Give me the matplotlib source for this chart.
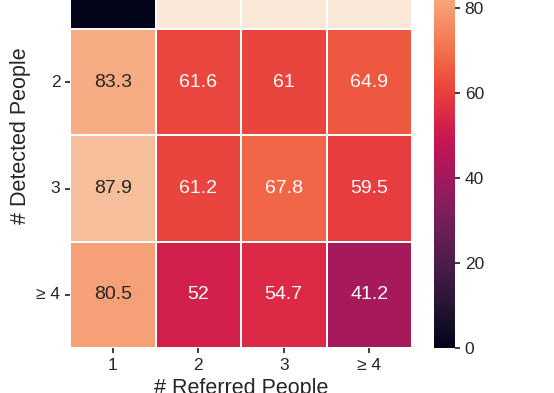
import matplotlib
matplotlib.use("Agg")
import matplotlib.pyplot as plt
import seaborn as sns
import numpy as np

sns.set_theme(style="ticks")
plt.rcParams['font.family'] = ['Liberation Sans', 'DejaVu Sans']

row_labels = ["1", "2", "3", "≥ 4"]
col_labels = ["1", "2", "3", "≥ 4"]
row1 = [0.0, 99.0, 99.0, 99.0]
row2 = [83.3, 61.6, 61.0, 64.9]
row3 = [87.9, 61.2, 67.8, 59.5]
row4 = [80.5, 52.0, 54.7, 41.2]
data = np.array([row1, row2, row3, row4])

W, H = 554, 393
fig = plt.figure(figsize=(W / 100, H / 100), dpi=100)
top_px, bot_px = -77, 348
ax = fig.add_axes([70 / W, (H - bot_px) / H, (412 - 70) / W, (bot_px - top_px) / H])
cax = fig.add_axes([434 / W, (H - bot_px) / H, (455 - 434) / W, (bot_px - top_px) / H])

sns.heatmap(data, ax=ax, cbar_ax=cax, cmap="rocket", vmin=0, vmax=100,
            annot=True, fmt="g", annot_kws={"size": 14},
            linewidths=1.2, linecolor="white",
            xticklabels=col_labels, yticklabels=row_labels)

ax.set_xlabel("# Referred People", fontsize=15.5, color="#262626")
ax.set_ylabel("# Detected People", fontsize=15.5, color="#262626")
ax.tick_params(axis="both", labelsize=12.5, colors="#262626", length=3.5)
ax.tick_params(axis="y", rotation=0)
cax.tick_params(labelsize=12.5, colors="#262626", length=3.5)
cax.set_yticks([0, 20, 40, 60, 80])

fig.savefig("out.png", dpi=100)
